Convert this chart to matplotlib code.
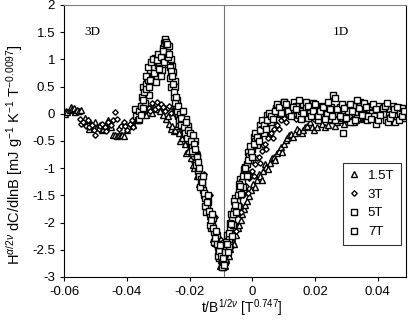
import matplotlib
matplotlib.use("Agg")
import matplotlib.pyplot as plt
from matplotlib.ticker import FuncFormatter

# data: (t/B^(1/2v), scaled dC/dlnB) pairs
pts_15T = [
    (-0.0598, 0.00), (-0.0594, 0.05), (-0.0590, 0.03), (-0.0582, 0.06), (-0.0578, 0.12),
    (-0.0575, 0.08), (-0.0568, 0.10), (-0.0565, 0.04), (-0.0560, 0.07), (-0.0553, 0.05),
    (-0.0545, 0.06), (-0.0540, -0.15), (-0.0535, -0.08), (-0.0525, -0.12), (-0.0520, -0.28),
    (-0.0515, -0.18), (-0.0505, -0.22), (-0.0500, -0.15), (-0.0495, -0.25), (-0.0485, -0.20),
    (-0.0480, -0.30), (-0.0475, -0.28), (-0.0465, -0.22), (-0.0460, -0.12), (-0.0450, -0.25),
    (-0.0444, -0.40), (-0.0438, -0.40), (-0.0432, -0.41), (-0.0426, -0.40), (-0.0420, -0.39),
    (-0.0414, -0.40), (-0.0408, -0.41), (-0.0400, -0.30), (-0.0395, -0.22), (-0.0385, -0.15),
    (-0.0380, -0.20), (-0.0375, -0.10), (-0.0365, -0.05), (-0.0360, -0.12), (-0.0355, 0.02),
    (-0.0345, 0.05), (-0.0340, -0.02), (-0.0335, 0.08), (-0.0325, 0.10), (-0.0320, 0.02),
    (-0.0315, 0.12), (-0.0305, 0.08), (-0.0300, 0.15), (-0.0295, 0.05), (-0.0285, -0.02),
    (-0.0280, 0.10), (-0.0275, -0.10), (-0.0270, -0.05), (-0.0265, -0.18), (-0.0260, -0.28),
    (-0.0255, -0.22), (-0.0250, -0.32), (-0.0245, -0.30), (-0.0240, -0.22), (-0.0235, -0.35),
    (-0.0230, -0.50), (-0.0225, -0.45), (-0.0220, -0.38), (-0.0215, -0.55), (-0.0210, -0.72),
    (-0.0205, -0.68), (-0.0200, -0.55), (-0.0195, -0.82), (-0.0190, -0.95), (-0.0185, -1.00),
    (-0.0180, -0.85), (-0.0175, -1.15), (-0.0170, -1.30), (-0.0165, -1.32), (-0.0160, -1.20),
    (-0.0155, -1.50), (-0.0150, -1.65), (-0.0145, -1.68), (-0.0140, -1.55), (-0.0135, -1.88),
    (-0.0132, -2.00), (-0.0128, -2.05), (-0.0124, -2.30), (-0.0120, -2.22), (-0.0117, -2.15),
    (-0.0113, -2.40), (-0.0110, -2.50), (-0.0106, -2.55), (-0.0102, -2.80), (-0.0100, -2.68),
    (-0.0096, -2.76), (-0.0093, -2.82), (-0.0090, -2.75), (-0.0087, -2.80), (-0.0085, -2.68),
    (-0.0082, -2.45), (-0.0078, -2.58), (-0.0075, -2.62), (-0.0070, -2.48), (-0.0066, -2.28),
    (-0.0062, -2.35), (-0.0057, -2.40), (-0.0052, -2.22), (-0.0047, -2.10), (-0.0042, -2.05),
    (-0.0037, -1.95), (-0.0032, -1.85), (-0.0027, -1.75), (-0.0022, -1.68), (-0.0016, -1.60),
    (-0.0010, -1.52), (-0.0004, -1.40), (0.0003, -1.30), (0.0008, -1.35), (0.0015, -1.22),
    (0.0020, -1.10), (0.0025, -1.15), (0.0030, -1.22), (0.0035, -1.05), (0.0040, -0.92),
    (0.0045, -0.98), (0.0050, -1.02), (0.0057, -0.90), (0.0062, -0.82), (0.0068, -0.80),
    (0.0073, -0.85), (0.0079, -0.72), (0.0085, -0.68), (0.0090, -0.62), (0.0095, -0.70),
    (0.0100, -0.55), (0.0106, -0.48), (0.0112, -0.45), (0.0117, -0.40), (0.0122, -0.38),
    (0.0128, -0.42), (0.0135, -0.35), (0.0142, -0.28), (0.0150, -0.32), (0.0157, -0.35),
    (0.0162, -0.30), (0.0168, -0.25), (0.0175, -0.22), (0.0183, -0.15), (0.0190, -0.25),
    (0.0198, -0.30), (0.0207, -0.24), (0.0215, -0.12), (0.0222, -0.18), (0.0230, -0.25),
    (0.0240, -0.20), (0.0248, -0.10), (0.0255, -0.12), (0.0263, -0.22), (0.0270, -0.15),
    (0.0278, -0.12), (0.0285, -0.08), (0.0293, -0.18), (0.0300, -0.10), (0.0308, -0.02),
    (0.0315, -0.05), (0.0323, -0.15), (0.0330, -0.12), (0.0338, 0.05), (0.0345, -0.02),
    (0.0353, -0.10), (0.0360, -0.08), (0.0368, 0.08), (0.0375, 0.02), (0.0383, 0.12),
    (0.0390, -0.05), (0.0398, -0.02), (0.0405, 0.05), (0.0413, 0.10), (0.0420, 0.00),
    (0.0428, -0.05), (0.0435, 0.08), (0.0443, 0.15), (0.0450, 0.03), (0.0458, 0.02),
    (0.0465, 0.10), (0.0473, 0.12), (0.0480, 0.06), (0.0487, 0.00),
]

pts_3T = [
    (-0.0550, -0.10), (-0.0545, -0.18), (-0.0540, -0.15), (-0.0530, -0.22), (-0.0525, -0.12),
    (-0.0520, -0.25), (-0.0510, -0.20), (-0.0505, -0.30), (-0.0500, -0.39), (-0.0490, -0.28),
    (-0.0485, -0.22), (-0.0480, -0.18), (-0.0470, -0.25), (-0.0465, -0.32), (-0.0460, -0.15),
    (-0.0450, -0.20), (-0.0445, -0.12), (-0.0437, 0.03), (-0.0430, -0.10), (-0.0425, -0.28),
    (-0.0420, -0.22), (-0.0410, -0.15), (-0.0405, -0.22), (-0.0400, -0.30), (-0.0390, -0.18),
    (-0.0385, -0.12), (-0.0380, -0.25), (-0.0370, -0.08), (-0.0365, 0.02), (-0.0360, -0.02),
    (-0.0350, 0.05), (-0.0345, 0.08), (-0.0340, 0.15), (-0.0330, 0.10), (-0.0325, 0.05),
    (-0.0320, 0.20), (-0.0310, 0.08), (-0.0305, 0.22), (-0.0300, 0.12), (-0.0290, 0.18),
    (-0.0285, 0.12), (-0.0280, 0.05), (-0.0270, 0.10), (-0.0265, 0.15), (-0.0260, 0.02),
    (-0.0250, 0.08), (-0.0245, 0.00), (-0.0240, -0.05), (-0.0230, -0.15), (-0.0225, -0.22),
    (-0.0220, -0.30), (-0.0215, -0.10), (-0.0210, -0.45), (-0.0205, -0.52), (-0.0200, -0.60),
    (-0.0195, -0.40), (-0.0190, -0.80), (-0.0185, -0.88), (-0.0180, -0.95), (-0.0175, -0.70),
    (-0.0170, -1.15), (-0.0165, -1.25), (-0.0160, -1.35), (-0.0155, -1.10), (-0.0150, -1.55),
    (-0.0145, -1.65), (-0.0140, -1.75), (-0.0135, -1.50), (-0.0130, -1.95), (-0.0126, -2.05),
    (-0.0122, -2.15), (-0.0118, -1.90), (-0.0115, -2.35), (-0.0111, -2.42), (-0.0108, -2.50),
    (-0.0104, -2.30), (-0.0100, -2.62), (-0.0097, -2.78), (-0.0094, -2.70), (-0.0088, -2.62),
    (-0.0084, -2.70), (-0.0080, -2.50), (-0.0076, -2.28), (-0.0072, -2.38), (-0.0068, -2.45),
    (-0.0064, -2.20), (-0.0060, -2.05), (-0.0056, -2.02), (-0.0052, -2.15), (-0.0048, -1.85),
    (-0.0044, -1.72), (-0.0040, -1.68), (-0.0035, -1.80), (-0.0030, -1.50), (-0.0025, -1.40),
    (-0.0020, -1.32), (-0.0015, -1.45), (-0.0010, -1.18), (-0.0005, -1.08), (0.0000, -1.05),
    (0.0005, -1.15), (0.0010, -0.92), (0.0015, -0.82), (0.0020, -0.80), (0.0025, -0.90),
    (0.0030, -0.68), (0.0035, -0.58), (0.0040, -0.55), (0.0045, -0.65), (0.0050, -0.45),
    (0.0055, -0.38), (0.0060, -0.35), (0.0065, -0.45), (0.0070, -0.28), (0.0075, -0.18),
    (0.0080, -0.20), (0.0085, -0.28), (0.0090, -0.12), (0.0095, -0.05), (0.0100, -0.08),
    (0.0108, -0.15), (0.0115, -0.02), (0.0122, 0.08), (0.0130, 0.03), (0.0138, -0.10),
    (0.0145, -0.05), (0.0152, 0.12), (0.0160, 0.05), (0.0168, -0.08), (0.0175, 0.00),
    (0.0183, 0.15), (0.0190, 0.08), (0.0198, -0.10), (0.0205, -0.03), (0.0213, 0.12),
    (0.0220, 0.05), (0.0228, -0.08), (0.0235, 0.10), (0.0243, 0.15), (0.0250, -0.02),
    (0.0258, -0.12), (0.0265, 0.06), (0.0273, 0.12), (0.0280, 0.00), (0.0288, -0.08),
    (0.0295, 0.08), (0.0303, 0.15), (0.0310, -0.05), (0.0318, -0.10), (0.0325, 0.04),
    (0.0333, 0.08), (0.0340, 0.12), (0.0348, -0.08), (0.0355, 0.00), (0.0363, 0.15),
    (0.0370, 0.06), (0.0378, 0.02), (0.0385, -0.04), (0.0393, 0.12), (0.0400, 0.05),
    (0.0408, -0.05), (0.0415, 0.10), (0.0423, 0.00), (0.0430, 0.02), (0.0438, 0.12),
    (0.0445, 0.07), (0.0453, 0.05), (0.0460, -0.02), (0.0468, 0.10), (0.0475, 0.04),
    (0.0482, -0.02), (0.0488, 0.08),
]

pts_5T = [
    (-0.0375, 0.08), (-0.0370, -0.05), (-0.0365, -0.12), (-0.0360, 0.05), (-0.0355, 0.15),
    (-0.0352, 0.30), (-0.0348, 0.49), (-0.0342, 0.20), (-0.0340, 0.55), (-0.0336, 0.68),
    (-0.0332, 0.62), (-0.0328, 0.35), (-0.0325, 0.80), (-0.0320, 0.60), (-0.0318, 0.88),
    (-0.0312, 0.85), (-0.0310, 1.03), (-0.0305, 0.70), (-0.0300, 0.90), (-0.0296, 0.95),
    (-0.0294, 1.08), (-0.0289, 0.80), (-0.0285, 1.20), (-0.0281, 1.30), (-0.0278, 1.36),
    (-0.0274, 1.22), (-0.0271, 1.14), (-0.0268, 0.92), (-0.0265, 1.25), (-0.0263, 0.65),
    (-0.0260, 1.00), (-0.0258, 0.50), (-0.0256, 0.88), (-0.0252, 0.77), (-0.0250, 0.30),
    (-0.0248, 0.60), (-0.0246, 0.49), (-0.0243, 0.12), (-0.0240, 0.25), (-0.0238, -0.05),
    (-0.0236, 0.07), (-0.0233, -0.18), (-0.0230, -0.05), (-0.0226, 0.02), (-0.0222, -0.12),
    (-0.0219, -0.28), (-0.0215, -0.20), (-0.0212, -0.10), (-0.0208, -0.35), (-0.0205, -0.22),
    (-0.0200, -0.45), (-0.0198, -0.38), (-0.0194, -0.55), (-0.0191, -0.62), (-0.0188, -0.72),
    (-0.0184, -0.50), (-0.0180, -0.90), (-0.0176, -0.78), (-0.0172, -1.05), (-0.0169, -1.15),
    (-0.0165, -1.20), (-0.0162, -1.30), (-0.0158, -1.40), (-0.0154, -1.48), (-0.0150, -1.55),
    (-0.0147, -1.80), (-0.0143, -1.70), (-0.0140, -1.62), (-0.0136, -1.85), (-0.0133, -2.10),
    (-0.0128, -2.00), (-0.0126, -1.92), (-0.0122, -2.18), (-0.0119, -2.38), (-0.0116, -2.30),
    (-0.0113, -2.22), (-0.0110, -2.45), (-0.0107, -2.65), (-0.0104, -2.58), (-0.0101, -2.50),
    (-0.0098, -2.70), (-0.0095, -2.80), (-0.0093, -2.50), (-0.0090, -2.60), (-0.0086, -2.72),
    (-0.0084, -2.45), (-0.0080, -2.22), (-0.0076, -2.30), (-0.0073, -2.45), (-0.0070, -2.10),
    (-0.0067, -1.85), (-0.0064, -1.95), (-0.0061, -2.05), (-0.0058, -1.78), (-0.0054, -1.55),
    (-0.0050, -1.60), (-0.0046, -1.70), (-0.0042, -1.42), (-0.0038, -1.20), (-0.0034, -1.25),
    (-0.0030, -1.35), (-0.0026, -1.10), (-0.0022, -0.98), (-0.0018, -0.92), (-0.0014, -0.70),
    (-0.0010, -0.78), (-0.0006, -0.85), (0.0000, -0.65), (0.0005, -0.42), (0.0010, -0.50),
    (0.0015, -0.58), (0.0020, -0.38), (0.0025, -0.20), (0.0030, -0.28), (0.0036, -0.35),
    (0.0042, -0.18), (0.0048, -0.02), (0.0055, -0.08), (0.0060, -0.15), (0.0068, 0.02),
    (0.0074, 0.10), (0.0080, 0.08), (0.0088, 0.00), (0.0095, 0.15), (0.0102, 0.22),
    (0.0110, 0.12), (0.0118, 0.05), (0.0125, 0.08), (0.0133, 0.22), (0.0140, 0.15),
    (0.0148, -0.02), (0.0155, 0.05), (0.0163, 0.18), (0.0170, 0.10), (0.0178, -0.08),
    (0.0185, 0.02), (0.0192, 0.20), (0.0200, 0.08), (0.0208, -0.12), (0.0215, -0.02),
    (0.0222, 0.15), (0.0230, 0.05), (0.0238, 0.00), (0.0245, -0.10), (0.0252, 0.12),
    (0.0258, 0.35), (0.0265, -0.12), (0.0272, 0.02), (0.0280, 0.12), (0.0290, -0.35),
    (0.0298, -0.05), (0.0305, 0.05), (0.0312, -0.15), (0.0320, 0.15), (0.0328, 0.02),
    (0.0335, -0.08), (0.0342, 0.22), (0.0350, 0.10), (0.0358, -0.05), (0.0365, -0.12),
    (0.0372, 0.15), (0.0380, 0.02), (0.0388, -0.05), (0.0395, -0.18), (0.0402, 0.15),
    (0.0410, 0.05), (0.0418, 0.00), (0.0425, -0.12), (0.0432, -0.15), (0.0440, 0.08),
    (0.0448, 0.15), (0.0455, -0.15), (0.0462, -0.05), (0.0470, 0.02), (0.0478, 0.10),
    (0.0485, -0.08),
]

pts_7T = [
    (-0.0360, -0.10), (-0.0355, -0.02), (-0.0350, 0.10), (-0.0348, 0.25), (-0.0345, 0.40),
    (-0.0340, 0.45), (-0.0338, 0.70), (-0.0334, 0.85), (-0.0330, 0.50), (-0.0326, 0.62),
    (-0.0322, 0.95), (-0.0318, 1.00), (-0.0315, 0.75), (-0.0308, 0.58), (-0.0305, 0.98),
    (-0.0300, 1.10), (-0.0298, 0.82), (-0.0292, 0.70), (-0.0290, 1.05), (-0.0286, 1.15),
    (-0.0282, 0.95), (-0.0279, 1.38), (-0.0276, 1.32), (-0.0272, 1.28), (-0.0268, 1.05),
    (-0.0266, 1.10), (-0.0262, 0.85), (-0.0259, 0.78), (-0.0255, 0.70), (-0.0253, 0.55),
    (-0.0250, 0.40), (-0.0247, 0.20), (-0.0244, 0.30), (-0.0241, 0.05), (-0.0238, 0.15),
    (-0.0235, -0.12), (-0.0232, 0.00), (-0.0228, -0.20), (-0.0226, -0.08), (-0.0221, 0.05),
    (-0.0218, -0.25), (-0.0215, -0.35), (-0.0212, -0.15), (-0.0208, -0.45), (-0.0204, -0.30),
    (-0.0200, -0.35), (-0.0196, -0.50), (-0.0193, -0.68), (-0.0190, -0.40), (-0.0186, -0.55),
    (-0.0184, -0.65), (-0.0180, -0.95), (-0.0178, -0.80), (-0.0174, -0.88), (-0.0170, -1.00),
    (-0.0166, -1.35), (-0.0162, -1.25), (-0.0158, -1.15), (-0.0154, -1.45), (-0.0150, -1.70),
    (-0.0146, -1.62), (-0.0142, -1.50), (-0.0139, -1.78), (-0.0135, -2.05), (-0.0132, -1.95),
    (-0.0128, -1.85), (-0.0125, -2.10), (-0.0122, -2.35), (-0.0119, -2.28), (-0.0116, -2.15),
    (-0.0113, -2.40), (-0.0110, -2.62), (-0.0107, -2.52), (-0.0104, -2.42), (-0.0101, -2.62),
    (-0.0098, -2.82), (-0.0095, -2.72), (-0.0092, -2.65), (-0.0089, -2.78), (-0.0087, -2.55),
    (-0.0083, -2.35), (-0.0080, -2.40), (-0.0077, -2.55), (-0.0073, -2.20), (-0.0070, -2.00),
    (-0.0067, -2.02), (-0.0064, -2.25), (-0.0061, -1.85), (-0.0058, -1.60), (-0.0055, -1.68),
    (-0.0051, -1.80), (-0.0047, -1.50), (-0.0043, -1.30), (-0.0039, -1.32), (-0.0035, -1.48),
    (-0.0030, -1.15), (-0.0026, -1.02), (-0.0022, -1.00), (-0.0018, -1.15), (-0.0014, -0.85),
    (-0.0009, -0.60), (-0.0005, -0.70), (0.0000, -0.80), (0.0005, -0.55), (0.0010, -0.35),
    (0.0015, -0.42), (0.0020, -0.50), (0.0025, -0.30), (0.0030, -0.12), (0.0036, -0.20),
    (0.0042, -0.28), (0.0048, -0.12), (0.0054, 0.02), (0.0060, -0.05), (0.0066, -0.10),
    (0.0072, 0.05), (0.0078, 0.18), (0.0085, 0.12), (0.0092, 0.02), (0.0100, 0.22),
    (0.0108, 0.18), (0.0115, 0.05), (0.0122, -0.05), (0.0130, 0.12), (0.0138, 0.08),
    (0.0148, 0.25), (0.0155, -0.10), (0.0163, 0.02), (0.0170, 0.22), (0.0178, 0.15),
    (0.0186, -0.05), (0.0193, 0.05), (0.0200, 0.18), (0.0208, -0.05), (0.0216, 0.05),
    (0.0225, 0.12), (0.0232, -0.10), (0.0240, 0.22), (0.0248, 0.08), (0.0255, -0.05),
    (0.0262, 0.28), (0.0270, 0.08), (0.0278, -0.05), (0.0285, 0.18), (0.0292, 0.10),
    (0.0300, -0.08), (0.0310, 0.18), (0.0318, 0.05), (0.0326, -0.12), (0.0333, 0.25),
    (0.0340, 0.10), (0.0348, -0.02), (0.0356, 0.20), (0.0363, 0.12), (0.0370, -0.05),
    (0.0378, -0.10), (0.0386, 0.18), (0.0393, 0.08), (0.0400, -0.12), (0.0408, -0.02),
    (0.0416, 0.10), (0.0423, 0.15), (0.0430, 0.20), (0.0438, -0.08), (0.0446, 0.00),
    (0.0453, 0.08), (0.0460, 0.12), (0.0468, -0.12), (0.0476, -0.05), (0.0483, 0.05),
]

labels = ['1.5T', '3T', '5T', '7T']
markers = ['^', 'D', 's', 's']
msizes = [4.2, 2.8, 4.2, 4.6]

x_ticks = [-0.06, -0.04, -0.02, 0, 0.02, 0.04]
y_ticks = [-3, -2.5, -2, -1.5, -1, -0.5, 0, 0.5, 1, 1.5, 2]
t_cross = -0.009

plt.rcParams['font.family'] = ['Liberation Sans', 'DejaVu Sans']
plt.rcParams['axes.unicode_minus'] = False
plt.rcParams['mathtext.fontset'] = 'custom'
plt.rcParams['mathtext.rm'] = 'Liberation Sans'
plt.rcParams['mathtext.it'] = 'Liberation Sans:italic'

fig = plt.figure(figsize=(4.11, 3.27), dpi=100)
ax = fig.add_axes([0.156, 0.153, 0.832, 0.832])

for pts, lab, m, ms in zip([pts_15T, pts_3T, pts_5T, pts_7T], labels, markers, msizes):
    t = [p[0] for p in pts]
    y = [p[1] for p in pts]
    ax.plot(t, y, marker=m, ms=ms, mfc='white', mec='black', mew=1.0,
            linestyle='none', label=lab)

ax.axvline(t_cross, color='0.45', lw=0.8, zorder=0)

ax.text(-0.0535, 1.5, '3D', family='Liberation Serif', fontsize=9.5, va='center')
ax.text(0.0255, 1.5, '1D', family='Liberation Serif', fontsize=9.5, va='center')

ax.set_xlim(-0.06, 0.049)
ax.set_ylim(-3, 2)
ax.set_xticks(x_ticks)
ax.set_yticks(y_ticks)
ax.xaxis.set_major_formatter(FuncFormatter(lambda v, p: '%g' % round(v, 3)))
ax.yaxis.set_major_formatter(FuncFormatter(lambda v, p: '%g' % v))
ax.tick_params(axis='both', direction='out', labelsize=9.5, width=0.8, length=3)
for s in ax.spines.values():
    s.set_linewidth(0.8)
ax.spines['top'].set_color('0.5')

ax.set_xlabel(r't/B$^{1/2\nu}$ [T$^{0.747}$]', fontsize=10, labelpad=2)
ax.set_ylabel(r'H$^{\alpha/2\nu}$ dC/dlnB [mJ g$^{-1}$ K$^{-1}$ T$^{-0.0097}$]',
              fontsize=10.5, labelpad=1)
ax.xaxis.set_label_coords(0.52, -0.075)
ax.yaxis.set_label_coords(-0.115, 0.45)

leg = ax.legend(loc='lower right', bbox_to_anchor=(0.985, 0.118), fontsize=9.5,
                frameon=True, fancybox=False, handlelength=0.7, handletextpad=0.7,
                borderpad=0.5, borderaxespad=0, labelspacing=0.5)
leg.get_frame().set_edgecolor('black')
leg.get_frame().set_linewidth(0.8)

fig.savefig('out.png', dpi=100)
